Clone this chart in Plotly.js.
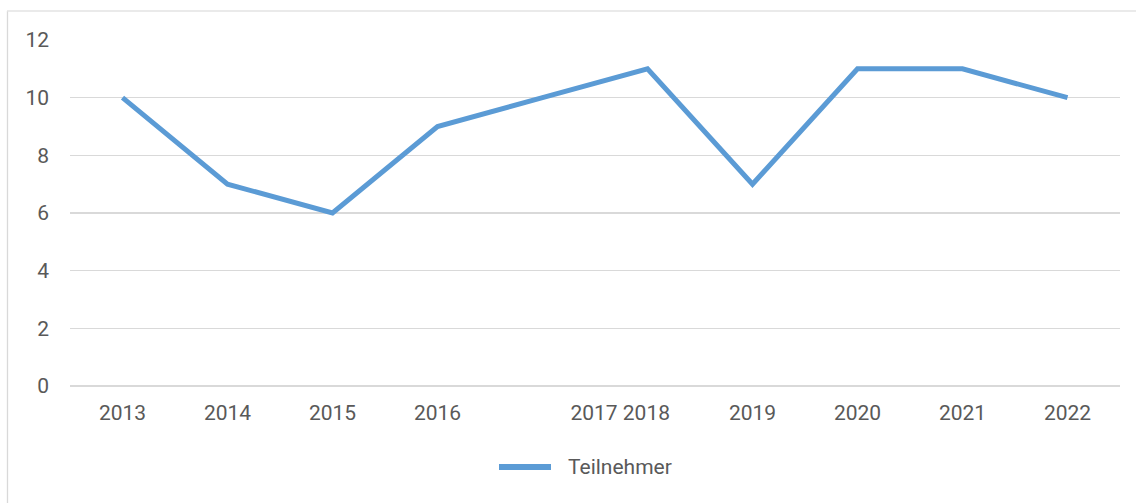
<!DOCTYPE html>
<html>
<head>
<meta charset="utf-8">
<script src="https://cdn.plot.ly/plotly-3.0.1.min.js"></script>
<style>html,body{margin:0;padding:0;background:#fff}#chart{width:1136px;height:503px}</style>
</head>
<body>
<div id="chart"></div>
<script>
// Data
var years = ["2013","2014","2015","2016","2017","2018","2019","2020","2021","2022"];
var teilnehmer = [10, 7, 6, 9, 10, 11, 7, 11, 11, 10];
var tickLabels = ["2013","2014","2015","2016","2017 2018","2019","2020","2021","2022"];
var tickPositions = [0, 1, 2, 3, 4.74, 6, 7, 8, 9];
var seriesName = "Teilnehmer";

var xIdx = years.map(function(_, i){ return i; });
var lineColor = '#5B9BD5';

var trace = {
  x: xIdx,
  y: teilnehmer,
  type: 'scatter',
  mode: 'lines',
  name: seriesName,
  line: {color: lineColor, width: 5, shape: 'linear'},
  hoverinfo: 'y',
  showlegend: false
};

var font = {family: 'Roboto, "Liberation Sans", sans-serif', size: 21, color: '#595959'};

// Plot area: x 70..1120, y 40..386
var W = 1050, H = 346;
function px(x){ return (x - 70) / W; }
function py(y){ return (386 - y) / H; }

var layout = {
  width: 1136, height: 503,
  margin: {l: 70, r: 16, t: 40, b: 117},
  paper_bgcolor: '#ffffff',
  plot_bgcolor: '#ffffff',
  font: font,
  showlegend: false,
  xaxis: {
    range: [-0.5, 9.5],
    tickmode: 'array', tickvals: tickPositions, ticktext: tickLabels,
    showgrid: false, zeroline: false, showline: false, ticks: '',
    ticklabelstandoff: 12,
    tickfont: font, fixedrange: true
  },
  yaxis: {
    range: [0, 12], dtick: 2, tick0: 0,
    showgrid: true, gridcolor: '#d9d9d9', gridwidth: 1.3,
    zeroline: true, zerolinecolor: '#d9d9d9', zerolinewidth: 1.3,
    showline: false, ticks: '',
    ticklabelstandoff: 20,
    tickfont: font, fixedrange: true
  },
  annotations: [{
    xref: 'paper', yref: 'paper', x: px(566), y: py(467),
    xanchor: 'left', yanchor: 'middle', showarrow: false,
    text: seriesName, font: font
  }],
  shapes: [
    {type: 'line', xref: 'paper', yref: 'paper',
     x0: px(7.5), x1: px(7.5), y0: py(11), y1: py(503),
     line: {color: '#d9d9d9', width: 1.3}, layer: 'below'},
    {type: 'line', xref: 'paper', yref: 'paper',
     x0: px(7), x1: px(1136), y0: py(11), y1: py(11),
     line: {color: '#e3e3e3', width: 1.3}, layer: 'below'},
    {type: 'line', xref: 'paper', yref: 'paper',
     x0: px(499), x1: px(551), y0: py(467), y1: py(467),
     line: {color: lineColor, width: 6}}
  ]
};

Plotly.newPlot('chart', [trace], layout, {displayModeBar: false, staticPlot: true});
</script>
</body>
</html>
